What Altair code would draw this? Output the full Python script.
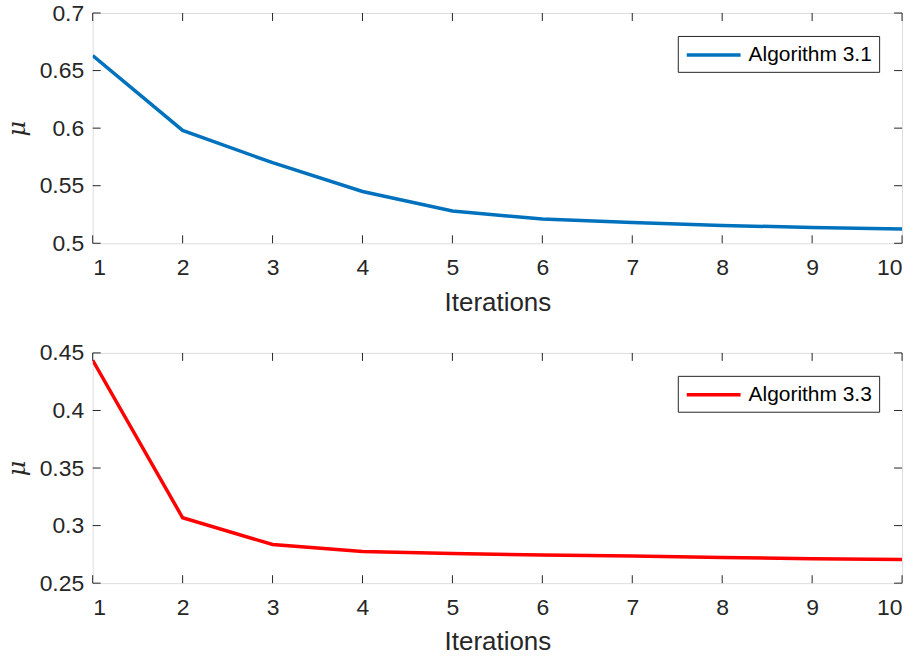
import altair as alt
import pandas as pd

iterations = [1, 2, 3, 4, 5, 6, 7, 8, 9, 10]
mu_alg31 = [0.663, 0.598, 0.570, 0.545, 0.528, 0.521, 0.518, 0.5155, 0.5137, 0.5125]
mu_alg33 = [0.4436, 0.3068, 0.2836, 0.2775, 0.2758, 0.2745, 0.2735, 0.2723, 0.2713, 0.2705]
x_ticks = [1, 2, 3, 4, 5, 6, 7, 8, 9, 10]
y_ticks_top = [0.5, 0.55, 0.6, 0.65, 0.7]
y_ticks_bottom = [0.25, 0.3, 0.35, 0.4, 0.45]

W, H = 812, 231
TXT = "#262626"
FONT = "Liberation Sans"
TICK = 8


def panel(values, label, color, yticks):
    df = pd.DataFrame({"it": iterations, "mu": values, "series": label})
    ydom = [yticks[0], yticks[-1]]
    xs = alt.Scale(domain=[1, 10], nice=False, zero=False)
    ys = alt.Scale(domain=ydom, nice=False, zero=False)
    line = alt.Chart(df).mark_line(strokeWidth=3.5, clip=True).encode(
        x=alt.X("it:Q", scale=xs,
                axis=alt.Axis(values=x_ticks, title="Iterations", grid=False, ticks=False,
                              tickSize=0, domain=False, labelFontSize=23, labelFont=FONT,
                              labelColor=TXT, labelPadding=13, titleFontSize=26,
                              titleFont=FONT, titleColor=TXT, titleFontWeight="normal",
                              titlePadding=10, format="d")),
        y=alt.Y("mu:Q", scale=ys,
                axis=alt.Axis(values=yticks, title="μ", grid=False, ticks=False, tickSize=0,
                              domain=False, labelFontSize=23, labelFont=FONT,
                              labelColor=TXT, labelPadding=9, titleFontSize=24,
                              titleFont="DejaVu Serif", titleFontStyle="italic",
                              titleFontWeight="normal", titleColor=TXT, titlePadding=10,
                              labelFlush=False, format="~g")),
        color=alt.Color("series:N", scale=alt.Scale(domain=[label], range=[color]),
                        legend=alt.Legend(title=None, orient="top-right", offset=23,
                                          symbolType="M-1,0L4.4,0", symbolSize=400,
                                          symbolStrokeWidth=3.5, symbolFillColor="transparent",
                                          labelFontSize=21,
                                          labelFont=FONT, labelColor="#000000",
                                          strokeColor="#262626", fillColor="white",
                                          padding=7, labelOffset=40, cornerRadius=0)),
    )
    xt = pd.DataFrame({"it": x_ticks})
    yt = pd.DataFrame({"mu": yticks})
    bx = alt.Chart(xt).mark_rule(color=TXT, strokeWidth=1).encode(
        x=alt.X("it:Q", scale=xs), y=alt.value(H), y2=alt.value(H - TICK))
    tx = alt.Chart(xt).mark_rule(color=TXT, strokeWidth=1).encode(
        x=alt.X("it:Q", scale=xs), y=alt.value(0), y2=alt.value(TICK))
    ly = alt.Chart(yt).mark_rule(color=TXT, strokeWidth=1).encode(
        y=alt.Y("mu:Q", scale=ys), x=alt.value(0), x2=alt.value(TICK))
    ry = alt.Chart(yt).mark_rule(color=TXT, strokeWidth=1).encode(
        y=alt.Y("mu:Q", scale=ys), x=alt.value(W), x2=alt.value(W - TICK))
    return alt.layer(line, bx, tx, ly, ry).properties(width=W, height=H)


top = panel(mu_alg31, "Algorithm 3.1", "#0072BD", y_ticks_top)
bottom = panel(mu_alg33, "Algorithm 3.3", "#FF0000", y_ticks_bottom)

chart = alt.vconcat(top, bottom, spacing=25).resolve_scale(color="independent").properties(
    padding={"left": 4, "top": 0, "right": 16, "bottom": 0}
).configure_view(stroke=TXT, strokeWidth=1).configure(background="white")

chart.save("out.html", embed_options={"renderer": "svg", "actions": False})
